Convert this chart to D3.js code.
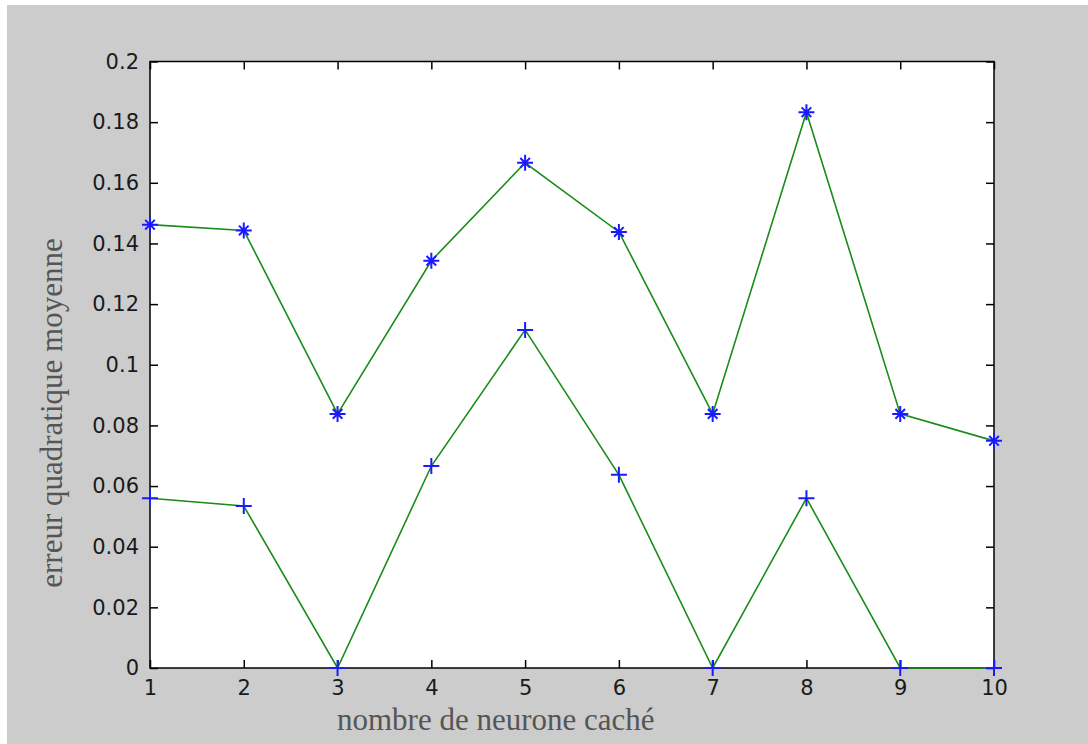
<!DOCTYPE html>
<html>
<head>
<meta charset="utf-8">
<script src="https://cdn.jsdelivr.net/npm/d3@7"></script>
<style>
  html, body { margin: 0; padding: 0; background: #fff; }
  svg { display: block; }
</style>
</head>
<body>
<div id="chart"></div>
<script>
// data
const neurons = [1, 2, 3, 4, 5, 6, 7, 8, 9, 10];
const upperErr = [0.1462, 0.1443, 0.0838, 0.1343, 0.1666, 0.1438, 0.0838, 0.1833, 0.0838, 0.0749];
const lowerErr = [0.0560, 0.0534, 0.0, 0.0666, 0.1115, 0.0637, 0.0, 0.0560, 0.0, 0.0];
const yTicks = [0, 0.02, 0.04, 0.06, 0.08, 0.1, 0.12, 0.14, 0.16, 0.18, 0.2];
const xTicks = [1, 2, 3, 4, 5, 6, 7, 8, 9, 10];

const W = 1088, H = 744;
const margin = { top: 61.5, right: 94, bottom: 76, left: 150 };
const width = W - margin.left - margin.right;
const height = H - margin.top - margin.bottom;

const svg = d3.select('#chart')
  .append('svg')
  .attr('width', W)
  .attr('height', H);

// grey figure background
svg.append('rect')
  .attr('x', 7).attr('y', 5)
  .attr('width', W - 7).attr('height', H - 5)
  .attr('fill', '#cccccc');

const g = svg.append('g')
  .attr('transform', `translate(${margin.left},${margin.top})`);

// Scales
const x = d3.scaleLinear().domain([1, 10]).range([0, width]);
const y = d3.scaleLinear().domain([0, 0.2]).range([height, 0]);

// plot area
g.append('rect')
  .attr('width', width)
  .attr('height', height)
  .attr('fill', '#fff');

const tickLen = 8;
const tickFont = '"DejaVu Sans", Verdana, sans-serif';

// Axes (ticks point inward, like matlab)
const styleAxis = (ax) => {
  ax.select('.domain').remove();
  ax.selectAll('line').attr('stroke', '#000').attr('stroke-width', 1.5);
  ax.selectAll('text')
    .style('font-family', tickFont)
    .style('font-size', '21px')
    .attr('fill', '#1a1a1a');
};

const xAxis = g.append('g')
  .attr('transform', `translate(0,${height})`)
  .call(d3.axisBottom(x).tickValues(xTicks).tickSizeInner(-tickLen).tickSizeOuter(0).tickPadding(12).tickFormat(d3.format('d')));
styleAxis(xAxis);

const yAxis = g.append('g')
  .call(d3.axisLeft(y).tickValues(yTicks).tickSizeInner(-tickLen).tickSizeOuter(0).tickPadding(11).tickFormat(d => d === 0 ? '0' : String(+d.toFixed(2))));
styleAxis(yAxis);

const xTop = g.append('g')
  .call(d3.axisTop(x).tickValues(xTicks).tickSizeInner(-tickLen).tickSizeOuter(0).tickFormat(''));
styleAxis(xTop);

const yRight = g.append('g')
  .attr('transform', `translate(${width},0)`)
  .call(d3.axisRight(y).tickValues(yTicks).tickSizeInner(-tickLen).tickSizeOuter(0).tickFormat(''));
styleAxis(yRight);

// box
g.append('rect')
  .attr('width', width)
  .attr('height', height)
  .attr('fill', 'none')
  .attr('stroke', '#000')
  .attr('stroke-width', 1.5);

// Lines
const line = d3.line()
  .x((d, i) => x(neurons[i]))
  .y(d => y(d));

[upperErr, lowerErr].forEach(series => {
  g.append('path')
    .datum(series)
    .attr('d', line)
    .attr('fill', 'none')
    .attr('stroke', '#1a8c1a')
    .attr('stroke-width', 1.6);
});

// Markers: '*' for upper, '+' for lower
const m = 8;
const upperPts = g.selectAll('.star')
  .data(upperErr)
  .enter().append('g')
  .attr('class', 'star')
  .attr('transform', (d, i) => `translate(${x(neurons[i])},${y(d)})`);
upperPts.append('path')
  .attr('d', `M${-m},0H${m}M0,${-m}V${m}M${-m * 0.6},${-m * 0.6}L${m * 0.6},${m * 0.6}M${-m * 0.6},${m * 0.6}L${m * 0.6},${-m * 0.6}`)
  .attr('stroke', '#1a1aff')
  .attr('stroke-width', 2)
  .attr('fill', 'none');

const lowerPts = g.selectAll('.plus')
  .data(lowerErr)
  .enter().append('g')
  .attr('class', 'plus')
  .attr('transform', (d, i) => `translate(${x(neurons[i])},${y(d)})`);
lowerPts.append('path')
  .attr('d', `M${-m},0H${m}M0,${-m}V${m}`)
  .attr('stroke', '#1a1aff')
  .attr('stroke-width', 2)
  .attr('fill', 'none');

// Axis titles
svg.append('text')
  .attr('x', 337)
  .attr('y', 730)
  .style('font-family', '"Liberation Serif", "Times New Roman", serif')
  .style('font-size', '31px')
  .attr('fill', '#555')
  .text('nombre de neurone caché');

svg.append('text')
  .attr('transform', 'translate(62,413) rotate(-90)')
  .style('text-anchor', 'middle')
  .style('font-family', '"Liberation Serif", "Times New Roman", serif')
  .style('font-size', '31px')
  .attr('fill', '#555')
  .text('erreur quadratique moyenne');
</script>
</body>
</html>
